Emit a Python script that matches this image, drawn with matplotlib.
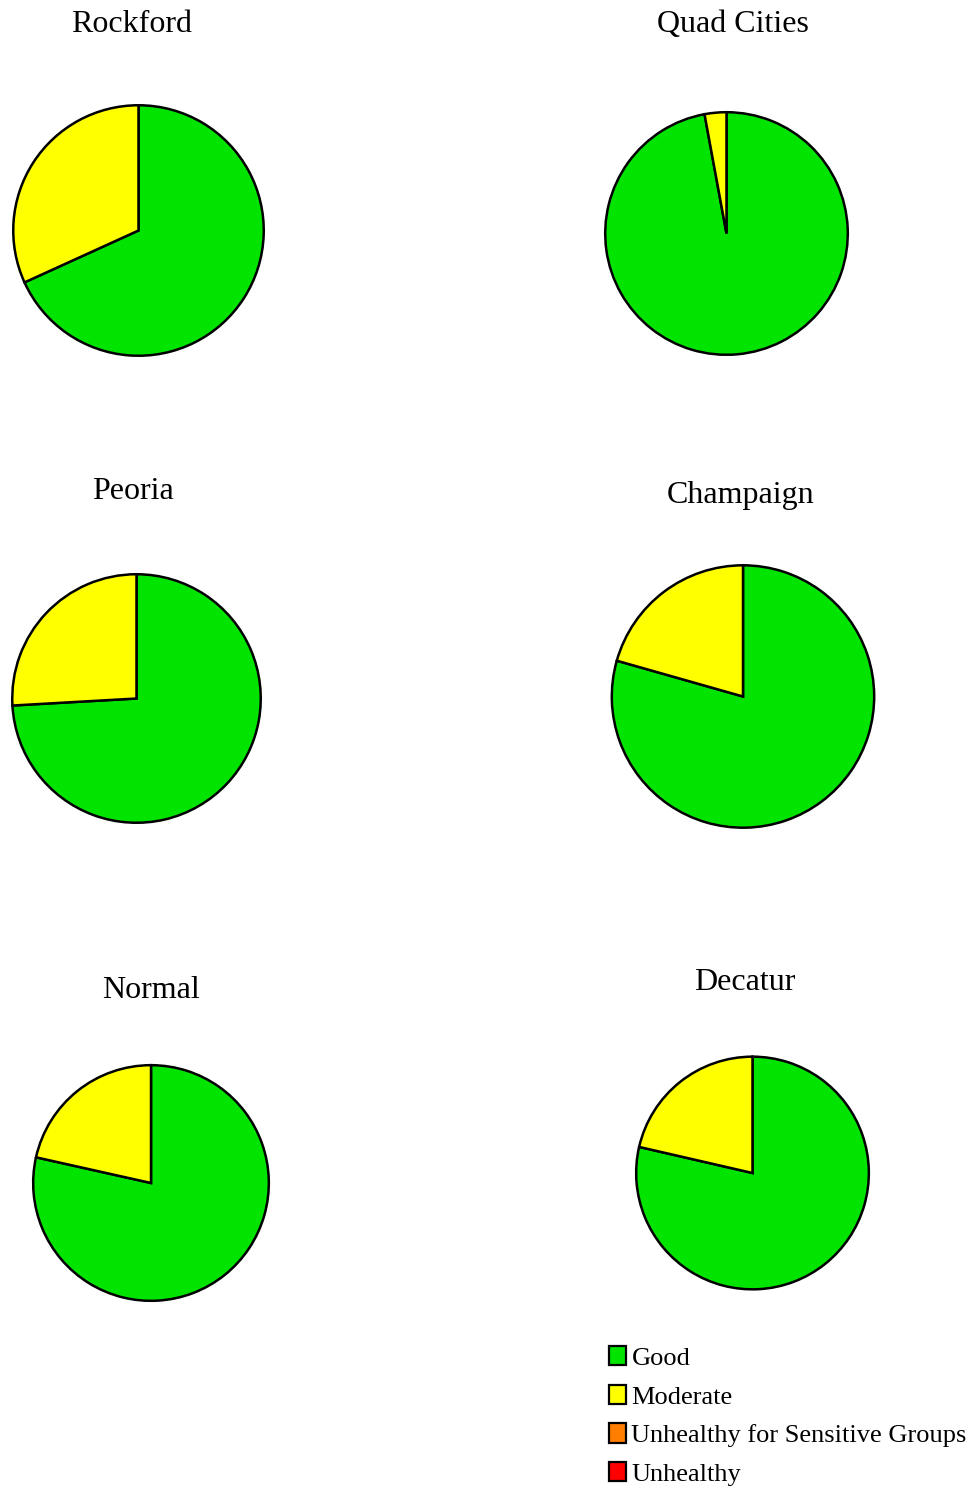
import matplotlib.pyplot as plt
from matplotlib.patches import Patch

plt.rcParams['font.family'] = ['Liberation Serif', 'DejaVu Serif']

W, H = 975, 1492

cities = ['Rockford', 'Quad Cities', 'Peoria', 'Champaign', 'Normal', 'Decatur']
good = [68.2, 97.1, 74.1, 79.4, 78.5, 78.6]
moderate = [31.8, 2.9, 25.9, 20.6, 21.5, 21.4]
usg = [0, 0, 0, 0, 0, 0]
unhealthy = [0, 0, 0, 0, 0, 0]

categories = ['Good', 'Moderate', 'Unhealthy for Sensitive Groups', 'Unhealthy']
colors = ['#00e400', '#ffff00', '#ff7e00', '#ff0000']

# pixel layout: pie centre x, centre y, radius, title x, title y
layout = [
    (138.5, 230.5, 126.5, 132, 24.5),
    (726.5, 233.5, 122.5, 733, 24.5),
    (136.5, 698.5, 125.5, 133, 491.5),
    (743, 696.5, 132.5, 741, 495.5),
    (151, 1183, 119, 151, 990.5),
    (752.5, 1173, 117.5, 745, 982.5),
]

fig = plt.figure(figsize=(W / 100, H / 100), dpi=100)

for i, city in enumerate(cities):
    cx, cy, r, tx, ty = layout[i]
    ax = fig.add_axes([(cx - r) / W, 1 - (cy + r) / H, 2 * r / W, 2 * r / H])
    vals = [good[i], moderate[i], usg[i], unhealthy[i]]
    v = [x for x in vals if x > 0]
    c = [colors[k] for k, x in enumerate(vals) if x > 0]
    ax.pie(v, colors=c, startangle=90, counterclock=False, radius=1,
           wedgeprops=dict(edgecolor='black', linewidth=1.8))
    ax.set_xlim(-1.01, 1.01)
    ax.set_ylim(-1.01, 1.01)
    ax.set_aspect('equal')
    ax.axis('off')
    fig.text(tx / W, 1 - ty / H, city, ha='center', va='center', fontsize=23)

handles = [Patch(facecolor=colors[k], edgecolor='black', linewidth=1.6) for k in range(4)]
fig.legend(handles, categories, loc='upper left', bbox_to_anchor=(609 / W, 1 - 1346 / H),
           frameon=False, fontsize=19, handlelength=0.65, handleheight=0.75,
           handletextpad=0.2, labelspacing=0.56, borderpad=0, borderaxespad=0)

fig.savefig('out.png', dpi=100)
